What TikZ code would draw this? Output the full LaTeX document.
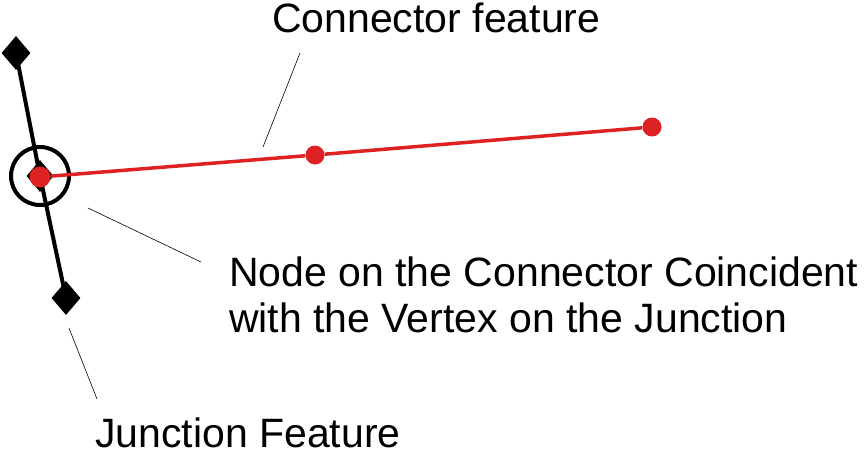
\documentclass[tikz,border=0pt]{standalone}
\usepackage{fontspec}
\setmainfont{Liberation Sans}
\usetikzlibrary{shapes.geometric}
\definecolor{conred}{RGB}{222,34,36}
\begin{document}
\begin{tikzpicture}[x=1pt,y=-1pt,
  junc/.style={diamond,fill=black,inner sep=0pt,minimum width=29pt,minimum height=34pt},
  vert/.style={circle,fill=conred,inner sep=0pt,minimum size=19pt},
  lead/.style={line width=0.6pt},
  lbl/.style={inner sep=0pt,font=\fontsize{41}{46}\selectfont}]
\useasboundingbox (0,0) rectangle (866,450);
% junction feature
\node[junc] (top) at (16,53) {};
\node[junc] (bot) at (66,298) {};
\node[junc,minimum width=27pt,minimum height=32pt] (mid) at (40,176) {};
\draw[line width=4pt] (top.center) -- (mid.center) -- (bot.center);
\node[circle,draw,line width=4pt,minimum size=58pt] (ring) at (mid) {};
% connector feature
\node[vert,minimum size=21pt] (v1) at (40,177) {};
\node[vert] (v2) at (315,155) {};
\node[vert] (v3) at (652,127) {};
\draw[conred,line width=3.5pt] (v1) -- (v2) -- (v3);
% labels
\node[lbl,anchor=base west] (conn) at (272,32) {Connector feature};
\node[lbl,anchor=north west,align=left] (coin) at (229,257) {Node on the Connector Coincident\\with the Vertex on the Junction};
\node[lbl,anchor=base west] (jfeat) at (95,447) {Junction Feature};
% leaders
\coordinate (c1) at (300,53);
\coordinate (c2) at (263,147);
\coordinate (n1) at (88,208);
\coordinate (n2) at (201,262);
\coordinate (j1) at (69,328);
\coordinate (j2) at (97,399);
\draw[lead] (c1) -- (c2);
\draw[lead] (n1) -- (n2);
\draw[lead] (j1) -- (j2);
\end{tikzpicture}
\end{document}
